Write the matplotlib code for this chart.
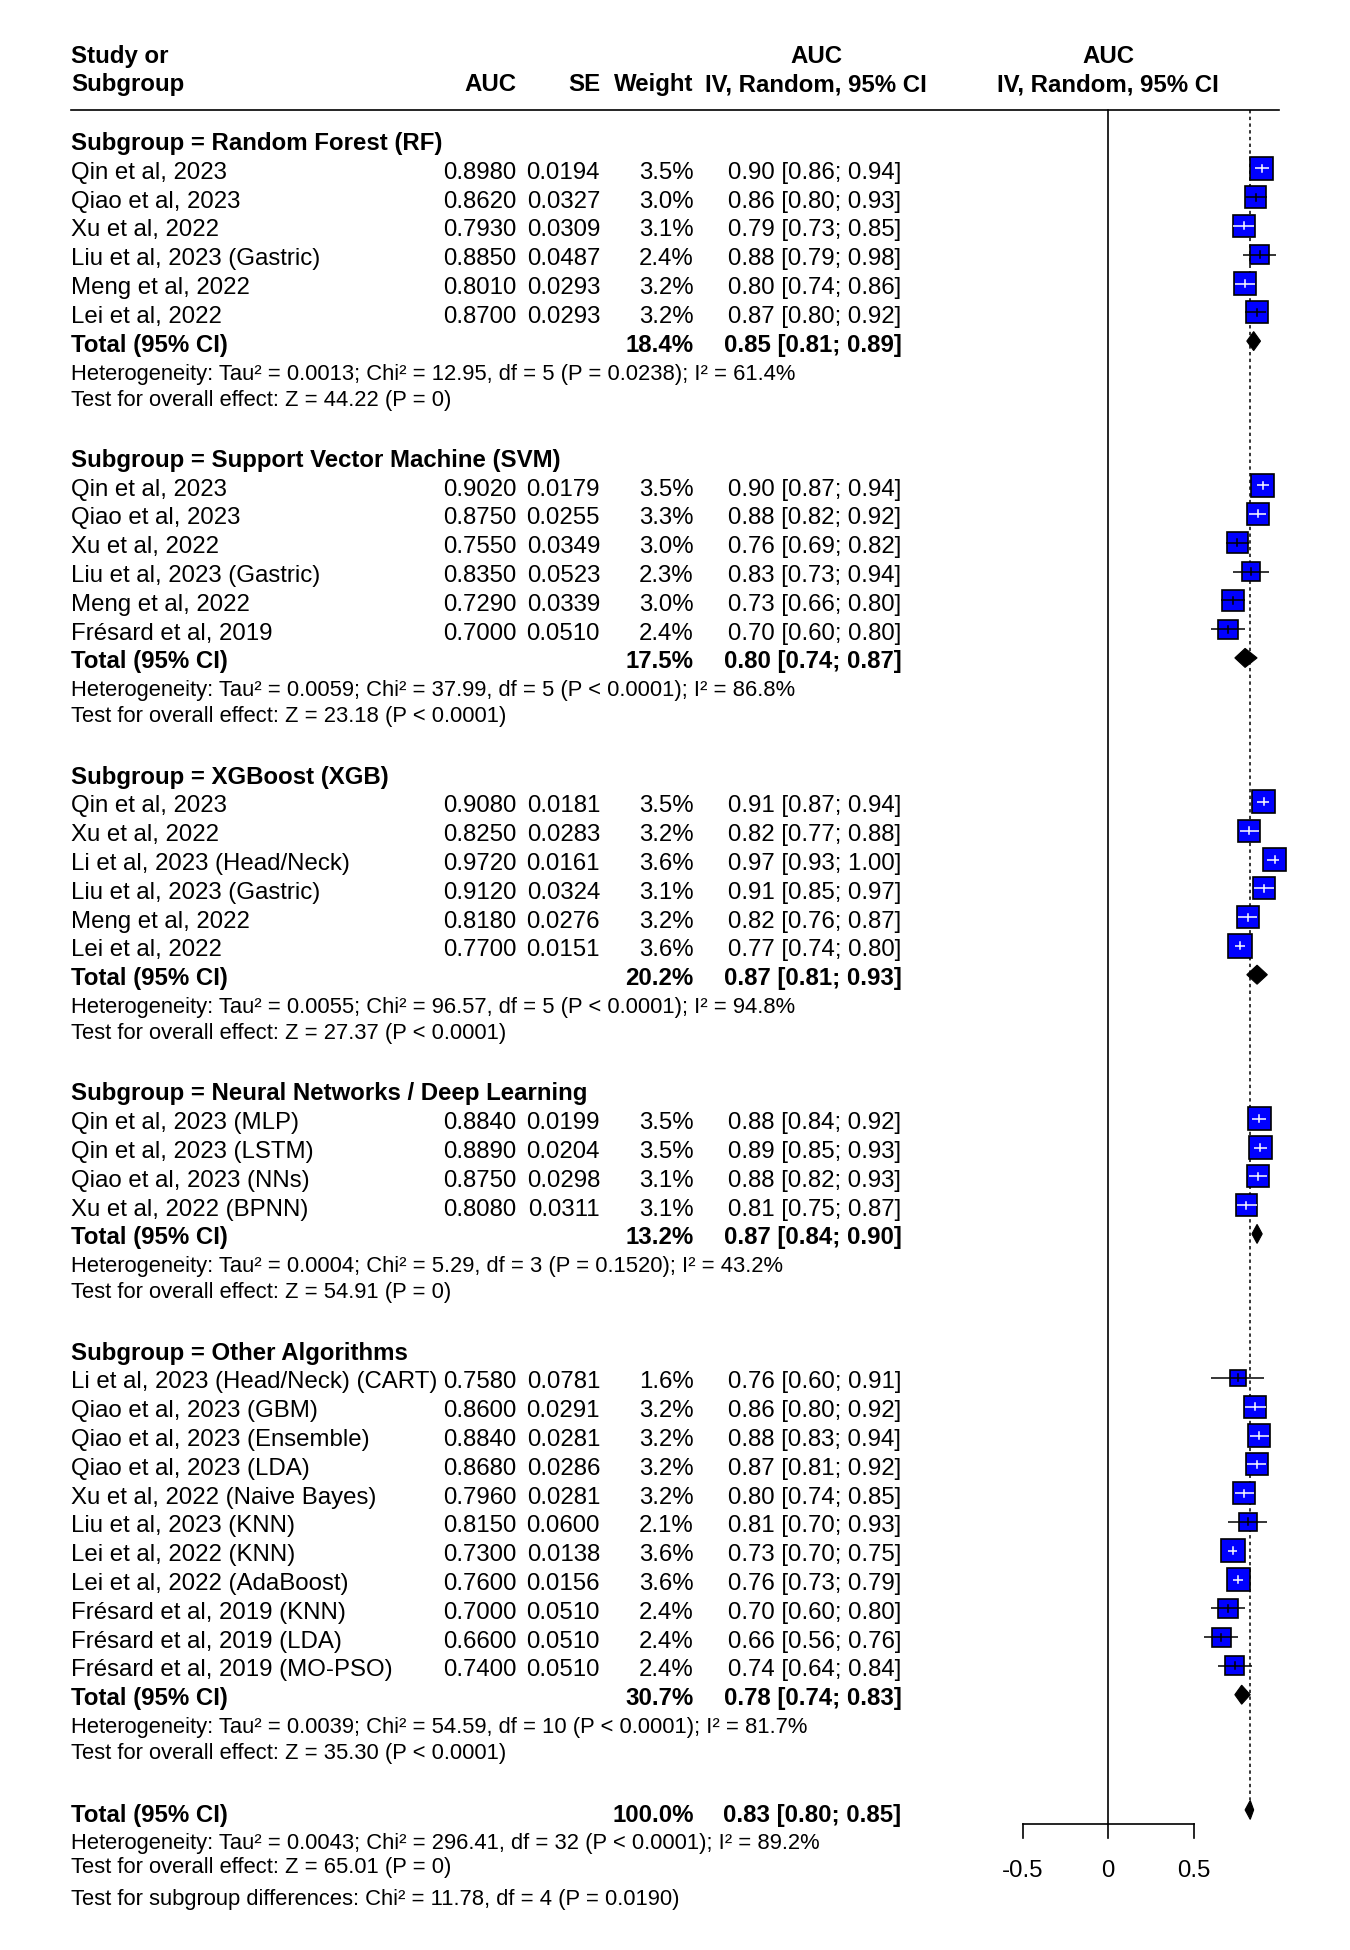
import matplotlib
matplotlib.use("Agg")
import matplotlib.pyplot as plt
from matplotlib.patches import Rectangle, Polygon

plt.rcParams['font.family'] = ['Liberation Sans', 'DejaVu Sans']

# ---------------- data ----------------
group_titles = ["Subgroup = Random Forest (RF)",
                "Subgroup = Support Vector Machine (SVM)",
                "Subgroup = XGBoost (XGB)",
                "Subgroup = Neural Networks / Deep Learning",
                "Subgroup = Other Algorithms"]

study_group = [0]*6 + [1]*6 + [2]*6 + [3]*4 + [4]*11
study_names = [
    "Qin et al, 2023", "Qiao et al, 2023", "Xu et al, 2022", "Liu et al, 2023 (Gastric)",
    "Meng et al, 2022", "Lei et al, 2022",
    "Qin et al, 2023", "Qiao et al, 2023", "Xu et al, 2022", "Liu et al, 2023 (Gastric)",
    "Meng et al, 2022", "Frésard et al, 2019",
    "Qin et al, 2023", "Xu et al, 2022", "Li et al, 2023 (Head/Neck)", "Liu et al, 2023 (Gastric)",
    "Meng et al, 2022", "Lei et al, 2022",
    "Qin et al, 2023 (MLP)", "Qin et al, 2023 (LSTM)", "Qiao et al, 2023 (NNs)", "Xu et al, 2022 (BPNN)",
    "Li et al, 2023 (Head/Neck) (CART)", "Qiao et al, 2023 (GBM)", "Qiao et al, 2023 (Ensemble)",
    "Qiao et al, 2023 (LDA)", "Xu et al, 2022 (Naive Bayes)", "Liu et al, 2023 (KNN)",
    "Lei et al, 2022 (KNN)", "Lei et al, 2022 (AdaBoost)", "Frésard et al, 2019 (KNN)",
    "Frésard et al, 2019 (LDA)", "Frésard et al, 2019 (MO-PSO)"]
auc = [0.8980, 0.8620, 0.7930, 0.8850, 0.8010, 0.8700,
       0.9020, 0.8750, 0.7550, 0.8350, 0.7290, 0.7000,
       0.9080, 0.8250, 0.9720, 0.9120, 0.8180, 0.7700,
       0.8840, 0.8890, 0.8750, 0.8080,
       0.7580, 0.8600, 0.8840, 0.8680, 0.7960, 0.8150, 0.7300, 0.7600, 0.7000, 0.6600, 0.7400]
se = [0.0194, 0.0327, 0.0309, 0.0487, 0.0293, 0.0293,
      0.0179, 0.0255, 0.0349, 0.0523, 0.0339, 0.0510,
      0.0181, 0.0283, 0.0161, 0.0324, 0.0276, 0.0151,
      0.0199, 0.0204, 0.0298, 0.0311,
      0.0781, 0.0291, 0.0281, 0.0286, 0.0281, 0.0600, 0.0138, 0.0156, 0.0510, 0.0510, 0.0510]
weight = [3.5, 3.0, 3.1, 2.4, 3.2, 3.2,
          3.5, 3.3, 3.0, 2.3, 3.0, 2.4,
          3.5, 3.2, 3.6, 3.1, 3.2, 3.6,
          3.5, 3.5, 3.1, 3.1,
          1.6, 3.2, 3.2, 3.2, 3.2, 2.1, 3.6, 3.6, 2.4, 2.4, 2.4]
est = [0.90, 0.86, 0.79, 0.88, 0.80, 0.87,
       0.90, 0.88, 0.76, 0.83, 0.73, 0.70,
       0.91, 0.82, 0.97, 0.91, 0.82, 0.77,
       0.88, 0.89, 0.88, 0.81,
       0.76, 0.86, 0.88, 0.87, 0.80, 0.81, 0.73, 0.76, 0.70, 0.66, 0.74]
lower = [0.86, 0.80, 0.73, 0.79, 0.74, 0.80,
         0.87, 0.82, 0.69, 0.73, 0.66, 0.60,
         0.87, 0.77, 0.93, 0.85, 0.76, 0.74,
         0.84, 0.85, 0.82, 0.75,
         0.60, 0.80, 0.83, 0.81, 0.74, 0.70, 0.70, 0.73, 0.60, 0.56, 0.64]
upper = [0.94, 0.93, 0.85, 0.98, 0.86, 0.92,
         0.94, 0.92, 0.82, 0.94, 0.80, 0.80,
         0.94, 0.88, 1.00, 0.97, 0.87, 0.80,
         0.92, 0.93, 0.93, 0.87,
         0.91, 0.92, 0.94, 0.92, 0.85, 0.93, 0.75, 0.79, 0.80, 0.76, 0.84]

group_weight = [18.4, 17.5, 20.2, 13.2, 30.7]
group_est = [0.85, 0.80, 0.87, 0.87, 0.78]
group_lo = [0.81, 0.74, 0.81, 0.84, 0.74]
group_hi = [0.89, 0.87, 0.93, 0.90, 0.83]
group_het = [
    "Heterogeneity: Tau² = 0.0013; Chi² = 12.95, df = 5 (P = 0.0238); I² = 61.4%",
    "Heterogeneity: Tau² = 0.0059; Chi² = 37.99, df = 5 (P < 0.0001); I² = 86.8%",
    "Heterogeneity: Tau² = 0.0055; Chi² = 96.57, df = 5 (P < 0.0001); I² = 94.8%",
    "Heterogeneity: Tau² = 0.0004; Chi² = 5.29, df = 3 (P = 0.1520); I² = 43.2%",
    "Heterogeneity: Tau² = 0.0039; Chi² = 54.59, df = 10 (P < 0.0001); I² = 81.7%"]
group_test = [
    "Test for overall effect: Z = 44.22 (P = 0)",
    "Test for overall effect: Z = 23.18 (P < 0.0001)",
    "Test for overall effect: Z = 27.37 (P < 0.0001)",
    "Test for overall effect: Z = 54.91 (P = 0)",
    "Test for overall effect: Z = 35.30 (P < 0.0001)"]

overall_weight = 100.0
overall_est, overall_lo, overall_hi = 0.83, 0.80, 0.85
overall_het = "Heterogeneity: Tau² = 0.0043; Chi² = 296.41, df = 32 (P < 0.0001); I² = 89.2%"
overall_test = "Test for overall effect: Z = 65.01 (P = 0)"
subgroup_test = "Test for subgroup differences: Chi² = 11.78, df = 4 (P = 0.0190)"

x_ticks = [-0.5, 0, 0.5]
x_tick_labels = ["-0.5", "0", "0.5"]

# ---------------- layout ----------------
W, H = 1350, 1950
X0, SC = 1108.3, 171.0      # pixel of x=0, pixels per unit
Y0, RH = 139.5, 28.8         # pixel of row 0 centre, row height

def row(ypx):
    return (ypx - Y0) / RH

def rpx(i):
    return Y0 + RH * i

FS = 17.3
FSH = 15.8
BASE = 10.5   # baseline offset (px) below row centre

X_STUDY = 71
X_AUC = 516.5
X_SE = 600
X_W = 693.5
X_CI = 901.5
X_CI_HDR = 816
X_RHDR = X0
LINE_R = 1279

fig = plt.figure(figsize=(W / 100, H / 100), dpi=100)
ax_t = fig.add_axes([0, 0, 1, 1])
ax_t.set_xlim(0, W)
ax_t.set_ylim(row(H), row(0))
ax_t.axis("off")
ax = fig.add_axes([0, 0, 1, 1])
ax.set_xlim((0 - X0) / SC, (W - X0) / SC)
ax.set_ylim(row(H), row(0))
ax.axis("off")
ax.patch.set_alpha(0)
ax_t.patch.set_alpha(0)

def txt(x, ypx, s, ha="left", bold=False, fs=FS):
    ax_t.text(x, row(ypx), s, ha=ha, va="baseline", fontsize=fs,
              fontweight="bold" if bold else "normal", color="black")

# header
txt(X_STUDY, rpx(-3) + BASE - 1, "Study or", bold=True)
txt(X_STUDY, rpx(-2) + BASE - 1, "Subgroup", bold=True)
txt(X_AUC, rpx(-2) + BASE - 1, "AUC", ha="right", bold=True)
txt(X_SE, rpx(-2) + BASE - 1, "SE", ha="right", bold=True)
txt(X_W, rpx(-2) + BASE - 1, "Weight", ha="right", bold=True)
txt(X_CI_HDR, rpx(-3) + BASE - 1, "AUC", ha="center", bold=True)
txt(X_CI_HDR, rpx(-2) + BASE - 1, "IV, Random, 95% CI", ha="center", bold=True)
txt(X_RHDR, rpx(-3) + BASE - 1, "AUC", ha="center", bold=True)
txt(X_RHDR, rpx(-2) + BASE - 1, "IV, Random, 95% CI", ha="center", bold=True)
ax_t.plot([X_STUDY, LINE_R], [row(110)] * 2, color="black", lw=1.2)

LW = 1.1
SQ = 12.3   # square side in px per sqrt(weight)
DH = 9.5    # diamond half-height px

def diamond(e, lo, hi, ypx):
    r = row(ypx)
    h = DH / RH
    ax.add_patch(Polygon([(lo, r), (e, r - h), (hi, r), (e, r + h)], closed=True,
                         facecolor="black", edgecolor="black", lw=0.8, zorder=4))

i = 0
for g in range(len(group_titles)):
    txt(X_STUDY, rpx(i) + BASE, group_titles[g], bold=True)
    idx = [k for k in range(len(study_names)) if study_group[k] == g]
    for j, k in enumerate(idx):
        r_i = i + 1 + j
        ypx = rpx(r_i)
        txt(X_STUDY, ypx + BASE, study_names[k])
        txt(X_AUC, ypx + BASE, f"{auc[k]:.4f}", ha="right")
        txt(X_SE, ypx + BASE, f"{se[k]:.4f}", ha="right")
        txt(X_W, ypx + BASE, f"{weight[k]:.1f}%", ha="right")
        txt(X_CI, ypx + BASE, f"{est[k]:.2f} [{lower[k]:.2f}; {upper[k]:.2f}]", ha="right")
        side = SQ * weight[k] ** 0.5
        wu = side / SC
        hr = side / RH
        r = row(ypx)
        ax.add_patch(Rectangle((auc[k] - wu / 2, r - hr / 2), wu, hr,
                               facecolor="#0000FF", edgecolor="black", lw=1.2, zorder=3))
        inside = lower[k] >= auc[k] - wu / 2 and upper[k] <= auc[k] + wu / 2
        col = "white" if inside else "black"
        ax.plot([lower[k], upper[k]], [r, r], color=col, lw=LW, zorder=5, solid_capstyle="butt")
        ax.plot([auc[k], auc[k]], [r - 3.5 / RH, r + 3.5 / RH], color=col, lw=LW, zorder=5)
    t_i = i + len(idx) + 1
    typx = rpx(t_i)
    txt(X_STUDY, typx + BASE, "Total (95% CI)", bold=True)
    txt(X_W, typx + BASE, f"{group_weight[g]:.1f}%", ha="right", bold=True)
    txt(X_CI, typx + BASE, f"{group_est[g]:.2f} [{group_lo[g]:.2f}; {group_hi[g]:.2f}]",
        ha="right", bold=True)
    diamond(group_est[g], group_lo[g], group_hi[g], typx)
    txt(X_STUDY, typx + 38.5, group_het[g], fs=FSH)
    txt(X_STUDY, typx + 64.5, group_test[g], fs=FSH)
    i += len(idx) + 5

# overall
oypx = rpx(i)
txt(X_STUDY, oypx + BASE + 1.5, "Total (95% CI)", bold=True)
txt(X_W, oypx + BASE + 1.5, f"{overall_weight:.1f}%", ha="right", bold=True)
txt(X_CI, oypx + BASE + 1.5, f"{overall_est:.2f} [{overall_lo:.2f}; {overall_hi:.2f}]", ha="right", bold=True)
diamond(overall_est, overall_lo, overall_hi, oypx)
txt(X_STUDY, oypx + 39.5, overall_het, fs=FSH)
txt(X_STUDY, oypx + 63.5, overall_test, fs=FSH)
txt(X_STUDY, oypx + 95.0, subgroup_test, fs=FSH)

# reference lines
axis_y = 1824.3
ax.plot([0, 0], [row(110), row(axis_y)], color="black", lw=1.2, zorder=1)
ax.plot([overall_est, overall_est], [row(110), row(oypx - DH)], color="black", lw=1.1,
        linestyle=(0, (2.2, 2.2)), zorder=1)

# x axis
ax.plot([x_ticks[0], x_ticks[-1]], [row(axis_y)] * 2, color="black", lw=1.2)
for t, lab in zip(x_ticks, x_tick_labels):
    ax.plot([t, t], [row(axis_y), row(axis_y + 14)], color="black", lw=1.2)
    ax.text(t, row(1876.7), lab, ha="center", va="baseline", fontsize=FS)

fig.savefig("out.png", dpi=100, facecolor="white")
